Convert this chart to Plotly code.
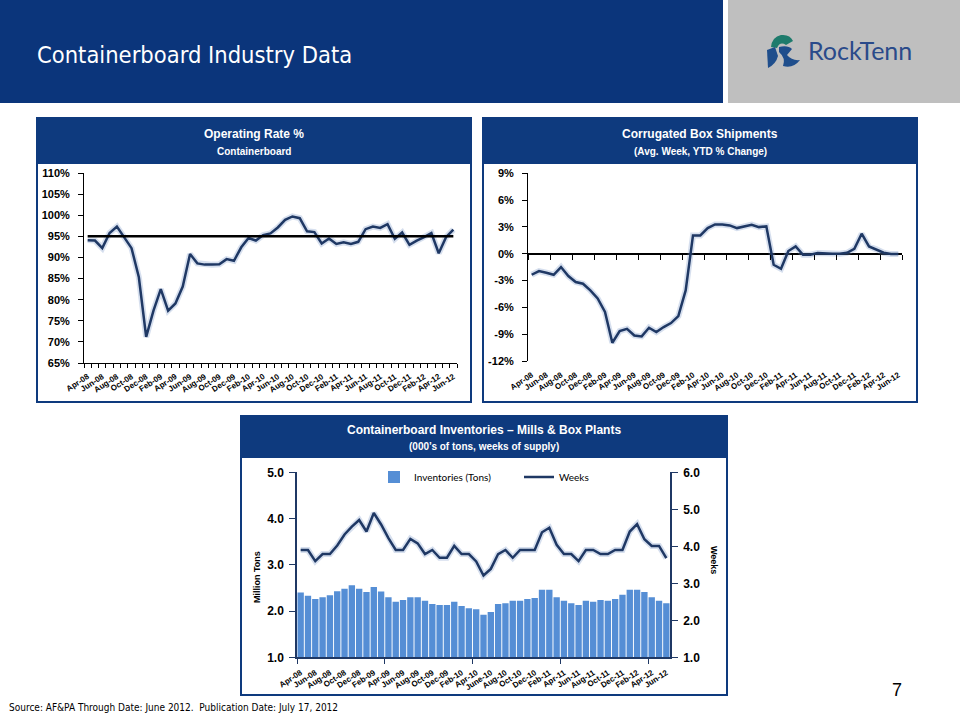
import plotly.graph_objects as go

# ---------------- DATA ----------------
months = ["Apr-08", "May-08", "Jun-08", "Jul-08", "Aug-08", "Sep-08", "Oct-08", "Nov-08", "Dec-08",
          "Jan-09", "Feb-09", "Mar-09", "Apr-09", "May-09", "Jun-09", "Jul-09", "Aug-09", "Sep-09",
          "Oct-09", "Nov-09", "Dec-09", "Jan-10", "Feb-10", "Mar-10", "Apr-10", "May-10", "Jun-10",
          "Jul-10", "Aug-10", "Sep-10", "Oct-10", "Nov-10", "Dec-10", "Jan-11", "Feb-11", "Mar-11",
          "Apr-11", "May-11", "Jun-11", "Jul-11", "Aug-11", "Sep-11", "Oct-11", "Nov-11", "Dec-11",
          "Jan-12", "Feb-12", "Mar-12", "Apr-12", "May-12", "Jun-12"]

operating_rate = [94.1, 94.0, 92.2, 95.8, 97.3, 94.8, 92.2, 85.3, 71.2, 77.4, 82.5, 77.4, 79.1,
                  83.1, 90.8, 88.6, 88.3, 88.3, 88.4, 89.6, 89.2, 92.4, 94.6, 94.0, 95.3, 95.7,
                  97.1, 98.9, 99.7, 99.3, 96.2, 96.0, 93.3, 94.5, 93.2, 93.6, 93.2, 93.7, 96.7,
                  97.3, 97.0, 97.9, 94.4, 95.9, 93.0, 94.0, 94.8, 95.8, 91.0, 94.8, 96.6]
target_rate = 95

box_shipments = [-2.35, -1.94, -2.13, -2.35, -1.49, -2.5, -3.17, -3.36, -4.1, -5.0, -6.5,
                 -9.96, -8.66, -8.4, -9.14, -9.25, -8.28, -8.77, -8.2, -7.76, -6.98,
                 -4.1, 2.05, 2.05, 2.87, 3.28, 3.28, 3.17, 2.87, 3.06, 3.25,
                 2.98, 3.06, -1.23, -1.68, 0.3, 0.82, -0.11, -0.11, 0.07, 0.0,
                 0.0, 0.0, 0.11, 0.56, 2.24, 0.82, 0.49, 0.11, -0.04, -0.04]

inventories = [2.40, 2.33, 2.26, 2.30, 2.34, 2.43, 2.48, 2.56, 2.48, 2.41, 2.52, 2.42, 2.30,
               2.20, 2.24, 2.30, 2.30, 2.22, 2.15, 2.13, 2.13, 2.20, 2.11, 2.06, 2.04, 1.92,
               1.98, 2.15, 2.17, 2.22, 2.22, 2.26, 2.28, 2.46, 2.46, 2.30, 2.22, 2.17, 2.13,
               2.22, 2.20, 2.24, 2.22, 2.26, 2.35, 2.46, 2.46, 2.41, 2.30, 2.22, 2.17]

weeks = [3.90, 3.90, 3.60, 3.79, 3.79, 4.02, 4.32, 4.53, 4.71, 4.40, 4.90, 4.59, 4.22,
         3.90, 3.90, 4.20, 4.08, 3.79, 3.90, 3.69, 3.69, 4.01, 3.79, 3.79, 3.59, 3.21,
         3.39, 3.79, 3.90, 3.69, 3.90, 3.90, 3.90, 4.38, 4.50, 4.04, 3.79, 3.79, 3.60,
         3.90, 3.90, 3.79, 3.79, 3.90, 3.90, 4.40, 4.60, 4.19, 4.01, 4.01, 3.68]

top_x_labels = ["Apr-08", "Jun-08", "Aug-08", "Oct-08", "Dec-08", "Feb-09", "Apr-09", "Jun-09",
                "Aug-09", "Oct-09", "Dec-09", "Feb-10", "Apr-10", "Jun-10", "Aug-10", "Oct-10",
                "Dec-10", "Feb-11", "Apr-11", "Jun-11", "Aug-11", "Oct-11", "Dec-11", "Feb-12",
                "Apr-12", "Jun-12"]
inv_x_labels = ["Apr-08", "Jun-08", "Aug-08", "Oct-08", "Dec-08", "Feb-09", "Apr-09", "Jun-09",
                "Aug-09", "Oct-09", "Dec-09", "Feb-10", "Apr-10", "June-10", "Aug-10", "Oct-10",
                "Dec-10", "Feb-11", "Apr-11", "Jun-11", "Aug-11", "Oct-11", "Dec-11", "Feb-12",
                "Apr-12", "Jun-12"]
label_months = top_x_labels  # month keys where labels sit

op_y_vals = [65, 70, 75, 80, 85, 90, 95, 100, 105, 110]
op_y_labels = ["65%", "70%", "75%", "80%", "85%", "90%", "95%", "100%", "105%", "110%"]
cb_y_vals = [-12, -9, -6, -3, 0, 3, 6, 9]
cb_y_labels = ["-12%", "-9%", "-6%", "-3%", "0%", "3%", "6%", "9%"]
inv_left_vals = [1, 2, 3, 4, 5]
inv_left_labels = ["1.0", "2.0", "3.0", "4.0", "5.0"]
inv_right_vals = [1, 2, 3, 4, 5, 6]
inv_right_labels = ["1.0", "2.0", "3.0", "4.0", "5.0", "6.0"]

# ---------------- STYLE ----------------
W, H = 960, 720
NAVY = "#0B357B"
PANEL = "#0E3A7E"
LINE = "#1F3864"
BAR = "#558ED5"
GLOW = "rgba(120,150,200,0.30)"
BOLD = "Liberation Sans, Arial, sans-serif"
NARROW = "DejaVu Sans Condensed, DejaVu Sans, sans-serif"


def px(x):
    return x / W


def py(y):
    return 1 - y / H


x_idx = list(range(len(months)))
label_idx = [months.index(m) for m in label_months]
n = len(months)
xr = [-0.5, n - 0.5]

fig = go.Figure()

# Panel 1 - operating rate
fig.add_trace(go.Scatter(x=x_idx, y=operating_rate, mode="lines", line=dict(color=GLOW, width=6),
                         showlegend=False, hoverinfo="skip", xaxis="x", yaxis="y"))
fig.add_trace(go.Scatter(x=x_idx, y=operating_rate, mode="lines", line=dict(color=LINE, width=2.5),
                         showlegend=False, name="Operating Rate", xaxis="x", yaxis="y"))
fig.add_trace(go.Scatter(x=[x_idx[0], x_idx[-1]], y=[target_rate, target_rate], mode="lines",
                         line=dict(color="black", width=2.5), showlegend=False, xaxis="x", yaxis="y"))

# Panel 2 - corrugated box shipments
fig.add_trace(go.Scatter(x=x_idx, y=box_shipments, mode="lines", line=dict(color=GLOW, width=6),
                         showlegend=False, hoverinfo="skip", xaxis="x2", yaxis="y2"))
fig.add_trace(go.Scatter(x=x_idx, y=box_shipments, mode="lines", line=dict(color=LINE, width=2.5),
                         showlegend=False, name="Box Shipments", xaxis="x2", yaxis="y2"))
fig.add_trace(go.Scatter(x=x_idx, y=box_shipments, mode="lines", opacity=0, line=dict(width=0),
                         showlegend=False, hoverinfo="skip", xaxis="x3", yaxis="y2"))

# Panel 3 - inventories
fig.add_trace(go.Bar(x=x_idx, y=inventories, marker=dict(color=BAR, line=dict(width=0)),
                     name="Inventories (Tons)", xaxis="x4", yaxis="y3"))
fig.add_trace(go.Scatter(x=x_idx, y=weeks, mode="lines", line=dict(color=GLOW, width=6),
                         showlegend=False, hoverinfo="skip", xaxis="x4", yaxis="y4"))
fig.add_trace(go.Scatter(x=x_idx, y=weeks, mode="lines", line=dict(color=LINE, width=2.5),
                         name="Weeks", xaxis="x4", yaxis="y4"))

tick_font = dict(family=BOLD, size=11, color="black", weight="bold")
inv_tick_font = dict(family=BOLD, size=12, color="black", weight="bold")
xlab_font = dict(family=BOLD, size=8, color="black", weight="bold")
XANG = -33

y_range_cb = [-12, 9]
cb_dom = [py(361), py(173.3)]
zero_pos = cb_dom[0] + (0 - y_range_cb[0]) / (y_range_cb[1] - y_range_cb[0]) * (cb_dom[1] - cb_dom[0])

fig.update_layout(
    template="none",
    width=W, height=H, margin=dict(l=0, r=0, t=0, b=0, pad=0, autoexpand=False),
    paper_bgcolor="white", plot_bgcolor="white",
    bargap=0.13,
    xaxis=dict(domain=[px(84), px(457)], anchor="y", range=xr, tickmode="array",
               tickvals=label_idx, ticktext=top_x_labels, tickangle=XANG, ticks="",
               ticklabelstandoff=5,
               showline=True, linecolor="black", linewidth=1, showgrid=False, zeroline=False,
               tickfont=xlab_font, automargin=False,
               minor=dict(tickmode="linear", tick0=-0.5, dtick=1, ticks="outside", ticklen=4,
                          tickcolor="black", showgrid=False)),
    yaxis=dict(domain=[py(363), py(173)], anchor="x", range=[65, 110], tickmode="array",
               tickvals=op_y_vals, ticktext=op_y_labels, ticks="outside", ticklen=5,
               ticklabelstandoff=6,
               tickcolor="black", showline=True, linecolor="black", linewidth=1,
               showgrid=False, zeroline=False, tickfont=tick_font, automargin=False),
    xaxis2=dict(domain=[px(528), px(902)], anchor="y2", range=xr, tickmode="array",
                tickvals=label_idx, ticktext=top_x_labels, tickangle=XANG, ticks="",
                ticklabelstandoff=7,
                showline=False, showgrid=False, zeroline=False, tickfont=xlab_font,
                automargin=False),
    xaxis3=dict(overlaying="x2", anchor="free", position=zero_pos, range=xr, tickmode="linear",
                tick0=2.5, dtick=3, ticks="outside", ticklen=5, tickcolor="black",
                showticklabels=False, showline=False, showgrid=False, zeroline=False,
                automargin=False),
    yaxis2=dict(domain=cb_dom, anchor="x2", range=y_range_cb, tickmode="array",
                tickvals=cb_y_vals, ticktext=cb_y_labels, ticks="outside", ticklen=5,
                ticklabelstandoff=6,
                tickcolor="black", showline=True, linecolor="black", linewidth=1,
                showgrid=False, zeroline=True, zerolinecolor="black", zerolinewidth=1.5,
                tickfont=tick_font, automargin=False),
    xaxis4=dict(domain=[px(297), px(670)], anchor="y3", range=xr, tickmode="array",
                tickvals=label_idx, ticktext=inv_x_labels, tickangle=XANG, ticks="",
                ticklabelstandoff=6,
                showline=True, linecolor=LINE, linewidth=1.5, showgrid=False, zeroline=False,
                tickfont=xlab_font, automargin=False,
                minor=dict(tickmode="linear", tick0=-0.5, dtick=12, ticks="outside", ticklen=5,
                           tickcolor=LINE, showgrid=False)),
    yaxis3=dict(domain=[py(657.3), py(472.3)], anchor="x4", range=[1, 5], tickmode="array",
                tickvals=inv_left_vals, ticktext=inv_left_labels, ticks="outside", ticklen=6,
                ticklabelstandoff=3,
                tickcolor=LINE, showline=True, linecolor=LINE, linewidth=1.5, showgrid=False,
                zeroline=False, tickfont=inv_tick_font, automargin=False),
    yaxis4=dict(overlaying="y3", side="right", anchor="x4", range=[1, 6], tickmode="array",
                tickvals=inv_right_vals, ticktext=inv_right_labels, ticks="outside", ticklen=6,
                ticklabelstandoff=3,
                tickcolor=LINE, showline=True, linecolor=LINE, linewidth=1.5, showgrid=False,
                zeroline=False, tickfont=inv_tick_font, automargin=False),
    legend=dict(orientation="h", x=px(374), y=py(477), xanchor="left", yanchor="middle",
                bgcolor="rgba(0,0,0,0)", font=dict(family="Lato, Open Sans, sans-serif", size=10,
                                                   color="black"),
                entrywidth=100, itemwidth=30),
)

shapes = []


def rect(x0, y0, x1, y1, fill=None, line=None, lw=0, layer="below"):
    d = dict(type="rect", xref="paper", yref="paper", x0=px(x0), x1=px(x1), y0=py(y1), y1=py(y0),
             layer=layer, line=dict(width=lw, color=line if line else "rgba(0,0,0,0)"))
    if fill:
        d["fillcolor"] = fill
    shapes.append(d)


# header
rect(0, 0, 723, 103, fill=NAVY)
rect(728, 0, 960, 103, fill="#BFBFBF")
# panels
for (x0, y0, x1, y1, hb) in [(37, 118, 471, 402, 164), (483, 118, 917, 402, 164),
                              (241, 416, 727, 695, 458)]:
    rect(x0, y0, x1, hb, fill=PANEL)
    rect(x0, y0, x1, y1, line=PANEL, lw=2, layer="above")


# logo icon (pixel-based paths anchored at top-left of page)
def logo_path(d, color):
    shapes.append(dict(type="path", xref="paper", yref="paper", xsizemode="pixel",
                       ysizemode="pixel", xanchor=0, yanchor=1, path=d, fillcolor=color,
                       line=dict(width=0), layer="above"))


logo_path("M 771 -47 Q 772 -37 781 -35 Q 790 -34 793 -41 L 786 -45 Q 780 -41 777 -48 Z", "#1E7B6C")
logo_path("M 767 -50 L 775 -47 L 778 -56 Q 776 -64 768 -68 Z", "#1F4E8C")
logo_path("M 779 -47 Q 788 -45 792 -49 L 787 -55 Q 792 -61 800 -60 Q 793 -69 783 -66 "
          "Q 786 -58 779 -52 Z", "#1F4E8C")
fig.update_layout(shapes=shapes)

ann = []


def text(x, y, s, size, color="white", family=BOLD, weight="normal", xanchor="center",
         yanchor="middle", angle=0):
    ann.append(dict(x=px(x), y=py(y), xref="paper", yref="paper", text=s, showarrow=False,
                    xanchor=xanchor, yanchor=yanchor, textangle=angle,
                    font=dict(family=family, size=size, color=color, weight=weight)))


text(35, 55, "Containerboard Industry Data", 23.5, family=NARROW, xanchor="left")
text(806, 50, "RockTenn", 25, color="#2A4A8A", family="Lato, Noto Sans, sans-serif",
     xanchor="left")
text(254, 134, "Operating Rate %", 12, weight="bold")
text(254, 151, "Containerboard", 10, weight="bold")
text(700, 134, "Corrugated Box Shipments", 12, weight="bold")
text(700, 151, "(Avg. Week, YTD % Change)", 10, weight="bold")
text(484, 430, "Containerboard Inventories \u2013 Mills & Box Plants", 12, weight="bold")
text(484, 446, "(000\u2019s of tons, weeks of supply)", 10, weight="bold")
text(257, 577, "Million Tons", 9, color="black", weight="bold", angle=-90)
text(714, 560, "Weeks", 9, color="black", weight="bold", angle=90)
text(897, 690, "7", 18, color="black", family="Liberation Sans, Arial, sans-serif")
text(7, 707, "Source: AF&PA Through Date: June 2012.  Publication Date: July 17, 2012", 10,
     color="black", family=NARROW, xanchor="left")
fig.update_layout(annotations=ann)

fig.write_html("out.html", config={"displayModeBar": False},
               post_script="document.body.style.margin='0';"
                           "document.body.style.padding='0';"
                           "document.body.style.overflow='hidden';")
